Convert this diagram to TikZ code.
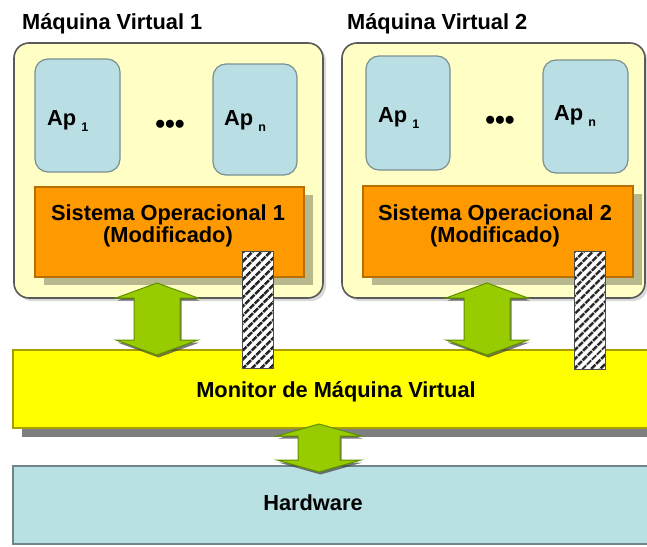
\documentclass[tikz,border=0pt]{standalone}
\usepackage{fontspec}
\setmainfont{Liberation Sans}
\usetikzlibrary{calc,patterns.meta}
\definecolor{vmfill}{HTML}{FFFFC5}
\definecolor{vmdraw}{HTML}{5A5A5A}
\definecolor{apfill}{HTML}{B9DEE4}
\definecolor{apdraw}{HTML}{7A9090}
\definecolor{sofill}{HTML}{FF9900}
\definecolor{sodraw}{HTML}{B86E00}
\definecolor{mvmfill}{HTML}{FFFF00}
\definecolor{mvmdraw}{HTML}{A9A000}
\definecolor{hwfill}{HTML}{B9E0E3}
\definecolor{hwdraw}{HTML}{6F8587}
\definecolor{arrfill}{HTML}{99CC00}
\definecolor{arrdraw}{HTML}{5F8F00}
\newcommand{\vmdblarrow}[5]{%
  \foreach \sh/\sty in {{(1.5pt,-2.5pt)}/arrowshadow, {(0pt,0pt)}/greenarrow}{%
  \path[\sty, transform canvas={shift=\sh}] (#1) -- ($(#1)+(#3,#5)$) -- ($(#1)+(#4,#5)$) -- ($(#2)+(#4,-#5)$) -- ($(#2)+(#3,-#5)$) -- (#2) -- ($(#2)+(-#3,-#5)$) -- ($(#2)+(-#4,-#5)$) -- ($(#1)+(-#4,#5)$) -- ($(#1)+(-#3,#5)$) -- cycle;}%
}
\tikzset{
  lbl/.style={font=\fontsize{21.8}{22}\selectfont\bfseries, inner sep=0pt, align=center},
  vmbox/.style={draw=vmdraw, fill=vmfill, line width=1.6pt, rounded corners=15pt, inner sep=0pt},
  apbox/.style={draw=apdraw, fill=apfill, line width=1.2pt, rounded corners=13pt, inner sep=0pt},
  sobox/.style={draw=sodraw, fill=sofill, line width=1.2pt, inner sep=0pt},
  shadowbox/.style={fill=black, fill opacity=0.28, draw=none, inner sep=0pt},
  mvmbox/.style={draw=mvmdraw, fill=mvmfill, line width=1.2pt, inner sep=0pt},
  hwbox/.style={draw=hwdraw, fill=hwfill, line width=1.4pt, inner sep=0pt},
  hatchbar/.style={draw=black!70, line width=1pt, inner sep=0pt, preaction={fill=white},
    pattern={Lines[angle=45, distance=6.5pt, line width=3pt]}, pattern color=black!85},
  greenarrow/.style={fill=arrfill, draw=arrdraw, line width=1pt, line join=miter},
  arrowshadow/.style={fill=black!75, fill opacity=0.7, draw=none},
  aplbl/.style={font=\fontsize{21.8}{22}\selectfont\bfseries, inner sep=0pt, anchor=base west},
  dotslbl/.style={font=\fontsize{28}{28}\selectfont\bfseries, inner sep=0pt}
}
\newcommand{\apsub}[1]{\hspace{5pt}\raisebox{-6pt}{\fontsize{12.5}{12.5}\selectfont #1}}
\begin{document}
\begin{tikzpicture}[x=1pt,y=-1pt]
\useasboundingbox (0,0) rectangle (647,546);
\fill[white] (0,0) rectangle (647,546);
% titles
\node[lbl, anchor=west] (t1) at (22,24) {Máquina Virtual 1};
\node[lbl, anchor=west] (t2) at (347,24) {Máquina Virtual 2};
% VM boxes
\node[shadowbox, rounded corners=15pt, fill opacity=0.15, minimum width=309, minimum height=255] at (171.5,173.5) {};
\node[shadowbox, rounded corners=15pt, fill opacity=0.15, minimum width=303, minimum height=255] at (496.5,173.5) {};
\node[vmbox, minimum width=309, minimum height=255] (vm1) at (168.5,170.5) {};
\node[vmbox, minimum width=303, minimum height=255] (vm2) at (493.5,170.5) {};
% applications
\node[apbox, minimum width=85, minimum height=113] (ap11) at (77.5,115.5) {};
\node[apbox, minimum width=84, minimum height=111] (ap1n) at (255,119.5) {};
\node[apbox, minimum width=84, minimum height=114] (ap21) at (408,113) {};
\node[apbox, minimum width=85, minimum height=113] (ap2n) at (585.5,116.5) {};
\node[aplbl] (l11) at (47,125) {Ap\apsub{1}};
\node[aplbl] (l1n) at (224,125) {Ap\apsub{n}};
\node[aplbl] (l21) at (378,122) {Ap\apsub{1}};
\node[aplbl] (l2n) at (554,120) {Ap\apsub{n}};
\node[dotslbl] (d1) at (170,127) {•••};
\node[dotslbl] (d2) at (500,123) {•••};
% operating systems
\node[shadowbox, minimum width=269, minimum height=90] (so1s) at (178.5,240) {};
\node[shadowbox, minimum width=270, minimum height=91] (so2s) at (507,239.5) {};
\node[sobox, minimum width=269, minimum height=90] (so1) at (169.5,232) {};
\node[sobox, minimum width=270, minimum height=91] (so2) at (498,231.5) {};
\node[lbl] (so1t) at (168,226) {Sistema Operacional 1\\(Modificado)};
\node[lbl] (so2t) at (495,226) {Sistema Operacional 2\\(Modificado)};
% monitor and hardware
\node[shadowbox, fill opacity=0.5, minimum width=634, minimum height=78] (mvms) at (339,398) {};
\node[mvmbox, minimum width=640, minimum height=78] (mvm) at (333,389) {};
\node[lbl] (mvmt) at (336,392) {Monitor de Máquina Virtual};
\node[hwbox, minimum width=640, minimum height=78] (hw) at (333,505) {};
\node[lbl] (hwt) at (313,503) {Hardware};
% arrows
\coordinate (a1t) at (157,283);
\coordinate (a1b) at (157,355);
\coordinate (a2t) at (487,283);
\coordinate (a2b) at (487,355);
\coordinate (a3t) at (319,424);
\coordinate (a3b) at (319,472);
\vmdblarrow{a1t}{a1b}{41}{23}{15}
\vmdblarrow{a2t}{a2b}{41}{23}{15}
\vmdblarrow{a3t}{a3b}{42}{21}{12}
% hatched bars
\node[hatchbar, minimum width=31, minimum height=117] (h1) at (257.5,309.5) {};
\node[hatchbar, minimum width=31, minimum height=118] (h2) at (589.5,310) {};
\end{tikzpicture}
\end{document}
